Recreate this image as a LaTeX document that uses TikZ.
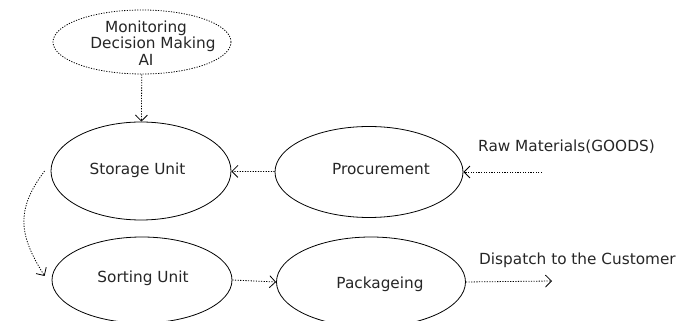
\documentclass[tikz,border=0pt]{standalone}
\usepackage{fontspec}
\setmainfont{DejaVu Sans}
\usetikzlibrary{shapes.geometric,arrows.meta}
\begin{document}
\begin{tikzpicture}[x=1pt,y=1pt,
  every node/.style={font=\fontsize{15.3}{16.5}\selectfont, text=black!85},
  oval/.style={draw, ellipse, line width=0.8pt, inner sep=0pt},
  txt/.style={inner sep=0pt, align=center},
  dots/.style={line width=0.8pt, dash pattern=on 1.2pt off 1.4pt},
  arr/.style={dots, -{Straight Barb[length=6pt,width=12pt,line width=0.8pt]}}
]
\useasboundingbox (0,0) rectangle (691,321);
\node[oval, dots, minimum width=178pt, minimum height=64pt] (ai) at (142,279) {};
\node[oval, minimum width=180pt, minimum height=98pt] (store) at (141,150) {};
\node[oval, minimum width=188pt, minimum height=91pt] (proc) at (369,149) {};
\node[oval, minimum width=180pt, minimum height=86pt] (sort) at (142,41) {};
\node[oval, minimum width=189pt, minimum height=90pt] (pack) at (371,39) {};
\node[txt] (aitxt) at ([xshift=4pt,yshift=-1pt]ai.center) {Monitoring\\\hspace*{14pt}Decision Making\\AI};
\node[txt] (storetxt) at ([xshift=-3.5pt,yshift=1pt]store.center) {Storage Unit};
\node[txt] (proctxt) at ([xshift=12pt,yshift=3pt]proc.center) {Procurement};
\node[txt] (sorttxt) at ([xshift=1pt,yshift=2pt]sort.center) {Sorting Unit};
\node[txt] (packtxt) at ([xshift=9pt,yshift=-2pt]pack.center) {Packageing};
\coordinate (raw) at (542,149);
\coordinate (disp) at (552,40);
\node[anchor=west, inner sep=0pt] (rawlbl) at (478,174) {Raw Materials(GOODS)};
\node[anchor=west, inner sep=0pt] (displbl) at (479,61) {Dispatch to the Customer};
\draw[arr] (ai) -- (store);
\draw[arr] (proc) -- (store);
\draw[arr] (raw) -- (proc.east);
\draw[arr] (sort.east) -- (pack.west);
\draw[arr] (pack.east) -- (disp);
\draw[arr] ([xshift=-6pt]store.west) .. controls +(-30,-40) and +(-25,40) .. ([xshift=-7pt,yshift=4pt]sort.west);
\end{tikzpicture}
\end{document}
